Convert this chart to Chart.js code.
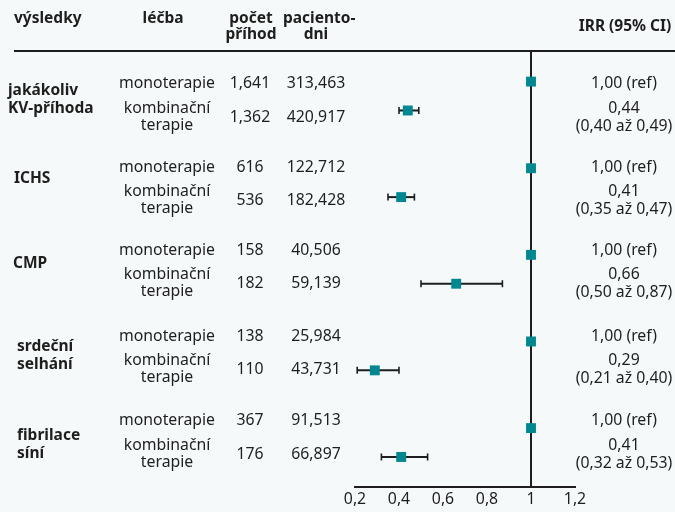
<!DOCTYPE html>
<html>
<head>
<meta charset="utf-8">
<script src="https://cdn.jsdelivr.net/npm/chart.js@4"></script>
<style>
  html, body { margin: 0; padding: 0; background: #f5f9f9; }
  #wrap { width: 675px; height: 512px; position: relative; }
</style>
</head>
<body>
<div id="wrap"><canvas id="forest"></canvas></div>
<script>
// data
let outcomes = [['jakákoliv', 'KV-příhoda'], ['ICHS'], ['CMP'], ['srdeční', 'selhání'], ['fibrilace', 'síní']];
let treatments = ['monoterapie', ['kombinační', 'terapie']];
let eventsMono = ['1,641', '616', '158', '138', '367'];
let eventsComb = ['1,362', '536', '182', '110', '176'];
let daysMono = ['313,463', '122,712', '40,506', '25,984', '91,513'];
let daysComb = ['420,917', '182,428', '59,139', '43,731', '66,897'];
let irrRef = [1, 1, 1, 1, 1];
let irrComb = [0.44, 0.41, 0.66, 0.29, 0.41];
let ciLow = [0.40, 0.35, 0.50, 0.21, 0.32];
let ciHigh = [0.49, 0.47, 0.87, 0.40, 0.53];
let xTicks = ['0,2', '0,4', '0,6', '0,8', '1', '1,2'];

// layout
const FONT = '"Noto Sans", sans-serif';
const SIZE = 15.8;
const BOLD_SIZE = 15.5;
const TEAL = '#00878f';
const INK = '#1e1e1e';
const yMin = -1.06, yMax = 14.04;
const monoTextY = [83, 167, 250, 336, 420];
const combTextY = [117, 200, 283, 369, 454];
const labelX = [8, 14, 13, 17, 17];
const labelY = [91, 179, 264, 347, 436];

function rowOf(g, r) { return g * 3 + r; }
function fmt(v) { return v.toFixed(2).replace('.', ','); }

function buildChart() {
    let refPts = irrRef.map((v, i) => ({ x: v, y: rowOf(i, 0) }));
    let combPts = irrComb.map((v, i) => ({ x: v, y: rowOf(i, 1) }));

    let datasets = [];
    // reference line at 1
    datasets.push({
        type: 'line', data: [{ x: 1, y: yMin }, { x: 1, y: yMax }],
        borderColor: INK, borderWidth: 2, pointRadius: 0, order: 3
    });
    // confidence intervals
    ciLow.forEach((lo, i) => {
        datasets.push({
            type: 'line', data: [{ x: lo, y: rowOf(i, 1) }, { x: ciHigh[i], y: rowOf(i, 1) }],
            borderColor: INK, borderWidth: 2, pointStyle: 'line', rotation: 90,
            pointRadius: 3.5, pointBorderWidth: 1.6, pointBorderColor: INK, order: 2
        });
    });
    datasets.push({
        type: 'scatter', data: refPts.concat(combPts),
        pointStyle: 'rect', pointRadius: 7, backgroundColor: TEAL, borderWidth: 0, order: 1
    });

    const textPlugin = {
        id: 'forestText',
        beforeDraw(chart) {
            let c = chart.ctx;
            c.save();
            c.fillStyle = '#f5f9f9';
            c.fillRect(0, 0, chart.width, chart.height);
            c.restore();
        },
        afterDraw(chart) {
            let c = chart.ctx;
            c.save();
            c.fillStyle = INK;
            c.textBaseline = 'middle';

            // header
            c.font = 'bold ' + BOLD_SIZE + 'px ' + FONT;
            c.textAlign = 'left';
            c.fillText('výsledky', 14, 19);
            c.fillText('paciento-', 283, 19);
            c.textAlign = 'center';
            c.fillText('léčba', 163, 19);
            c.fillText('počet', 251, 19);
            c.fillText('příhod', 251, 35);
            c.fillText('dni', 316, 35);
            c.fillText('IRR (95% CI)', 625, 27);

            c.strokeStyle = INK;
            c.lineWidth = 2;
            c.beginPath();
            c.moveTo(14, 51);
            c.lineTo(675, 51);
            c.stroke();

            // outcome labels
            c.textAlign = 'left';
            outcomes.forEach((lines, i) => {
                lines.forEach((t, j) => c.fillText(t, labelX[i], labelY[i] + j * 18));
            });

            // rows
            c.font = SIZE + 'px ' + FONT;
            c.textAlign = 'center';
            for (let i = 0; i < outcomes.length; i++) {
                let ym = monoTextY[i], yc = combTextY[i];
                c.fillText(treatments[0], 167, ym);
                c.fillText(eventsMono[i], 250, ym);
                c.fillText(daysMono[i], 316, ym);
                c.fillText(fmt(irrRef[i]) + ' (ref)', 624, ym);

                c.fillText(treatments[1][0], 167, yc - 8.5);
                c.fillText(treatments[1][1], 167, yc + 8.5);
                c.fillText(eventsComb[i], 250, yc);
                c.fillText(daysComb[i], 316, yc);
                c.fillText(fmt(irrComb[i]), 624, yc - 9);
                c.fillText('(' + fmt(ciLow[i]) + ' až ' + fmt(ciHigh[i]) + ')', 624, yc + 9);
            }
            c.restore();
        }
    };

    let ctx = document.getElementById('forest').getContext('2d');
    new Chart(ctx, {
        type: 'scatter',
        data: { datasets: datasets },
        options: {
            responsive: true,
            maintainAspectRatio: false,
            animation: false,
            layout: { padding: { left: 355, right: 100, top: 51, bottom: 0 } },
            plugins: { legend: { display: false }, tooltip: { enabled: false } },
            scales: {
                x: {
                    type: 'linear', min: 0.2, max: 1.2,
                    afterFit: (s) => { s.height = 25; },
                    grid: { display: false, drawTicks: false },
                    border: { display: true, color: INK, width: 2 },
                    ticks: {
                        stepSize: 0.2, padding: 3, color: INK,
                        font: { family: FONT, size: SIZE },
                        callback: (v, idx) => xTicks[idx]
                    }
                },
                y: {
                    type: 'linear', display: false, reverse: true, min: yMin, max: yMax
                }
            }
        },
        plugins: [textPlugin]
    });
}

buildChart();
</script>
</body>
</html>
